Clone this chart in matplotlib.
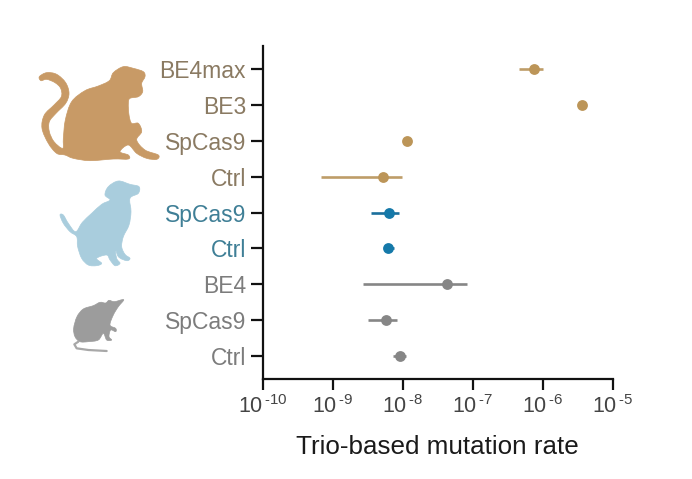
import numpy as np
import matplotlib
matplotlib.use("Agg")
import matplotlib.pyplot as plt
from matplotlib.path import Path
from matplotlib.patches import PathPatch
from matplotlib.ticker import LogLocator, FuncFormatter, NullLocator

plt.rcParams['font.family'] = ['Liberation Sans', 'DejaVu Sans']
plt.rcParams['mathtext.fontset'] = 'custom'
plt.rcParams['mathtext.rm'] = 'Liberation Sans'
plt.rcParams['mathtext.default'] = 'regular'

# ---- data ----
categories = ["BE4max", "BE3", "SpCas9", "Ctrl", "SpCas9", "Ctrl", "BE4", "SpCas9", "Ctrl"]
rate  = [7.4e-7, 3.65e-6, 1.15e-8, 5.3e-9, 6.3e-9, 6.2e-9, 4.35e-8, 5.8e-9, 9.2e-9]
low   = [4.6e-7, 3.65e-6, 1.15e-8, 6.7e-10, 3.5e-9, 5.4e-9, 2.7e-9, 3.2e-9, 7.3e-9]
high  = [1.0e-6, 3.65e-6, 1.15e-8, 9.8e-9, 9.0e-9, 7.4e-9, 8.4e-8, 8.3e-9, 1.1e-8]
group = ["macaque", "macaque", "macaque", "macaque", "dog", "dog", "mouse", "mouse", "mouse"]

mark_col  = {"macaque": "#BC9558", "dog": "#1579A9", "mouse": "#868686"}
line_col  = {"macaque": "#BE9D68", "dog": "#1B6F9C", "mouse": "#868686"}
label_col = {"macaque": "#8A7A62", "dog": "#3F7F96", "mouse": "#7C7C7C"}

# silhouette outlines (zoomed-crop coordinates, 3x, with crop origin)
monkey = [(280,20),(310,25),(340,35),(345,50),(335,70),(338,95),(325,110),(300,115),(295,130),(297,165),
          (305,190),(325,190),(335,215),(320,240),(345,270),(385,285),(380,298),(350,295),(320,280),(295,255),
          (270,275),(295,285),(295,297),(250,297),(180,302),(130,295),(105,285),(80,280),(55,250),(36,205),
          (43,165),(72,135),(94,110),(92,85),(75,68),(50,58),(33,62),(28,50),(50,38),(80,43),(107,68),(117,100),
          (107,130),(78,160),(58,185),(58,215),(72,245),(98,265),(100,235),(106,180),(125,125),(165,92),
          (205,78),(238,62),(250,38)]
dog = [(190,18),(225,28),(252,35),(250,55),(225,70),(228,110),(222,150),(205,185),(200,215),(210,238),
       (225,250),(215,257),(190,245),(180,215),(185,250),(195,265),(180,272),(165,255),(155,240),(125,250),
       (140,265),(125,272),(100,270),(80,250),(68,215),(65,185),(45,170),(25,145),(15,120),(25,120),(40,145),
       (62,170),(82,142),(110,115),(140,88),(165,75),(150,60),(160,35)]
rat = [(105,22),(122,24),(132,16),(148,20),(176,14),(160,35),(145,60),(135,90),(152,100),(152,110),(137,105),
       (132,125),(140,135),(125,135),(115,115),(100,135),(70,140),(45,140),(30,125),(26,100),(36,65),(55,42),(85,32)]
rat_tail = [(40,140),(28,148),(35,160),(70,165),(125,168)]

W, H = 692, 479
fig = plt.figure(figsize=(W/100, H/100), dpi=100, facecolor="white")
ax = fig.add_axes([262.7/W, 1-379/H, 350/W, 333/H])

y = np.arange(len(categories))
for i, g in enumerate(group):
    ax.errorbar(rate[i], y[i], xerr=[[rate[i]-low[i]], [high[i]-rate[i]]],
                fmt="none", ecolor=line_col[g], elinewidth=1.9, capsize=0, zorder=2)
    ax.plot(rate[i], y[i], "o", ms=7.8, mfc=mark_col[g], mec=mark_col[g], mew=0, zorder=3)

ax.set_xscale("log")
ax.set_xlim(1e-10, 1e-5)
ax.set_ylim(8.635, -0.64)
ax.xaxis.set_major_locator(LogLocator(base=10, numticks=10))
ax.xaxis.set_major_formatter(FuncFormatter(
    lambda v, _: "10$^{\\,\\text{-%d}}$" % round(-np.log10(v))))
ax.xaxis.set_minor_locator(NullLocator())
ax.set_yticks(y)
ax.set_yticklabels(categories)
for lab, g in zip(ax.get_yticklabels(), group):
    lab.set_color(label_col[g])
for s in ("top", "right"):
    ax.spines[s].set_visible(False)
for s in ("left", "bottom"):
    ax.spines[s].set_linewidth(1.6)
    ax.spines[s].set_color("#111111")
ax.tick_params(axis="y", length=8.5, width=1.6, labelsize=16.5, pad=3.5, color="#111111")
ax.tick_params(axis="x", length=8, width=1.6, labelsize=15.5, pad=3.5, color="#111111", labelcolor="#444444")
ax.set_xlabel("Trio-based mutation rate", fontsize=18.7, color="#1a1a1a", labelpad=12)

# decorative silhouettes on a pixel-space overlay
ov = fig.add_axes([0, 0, 1, 1], facecolor="none")
ov.set_xlim(0, W); ov.set_ylim(H, 0); ov.axis("off")

def smooth_closed(pts, ox, oy):
    p = np.array(pts, float) / 3 + [ox, oy]
    n = len(p)
    verts = [p[0]]; codes = [Path.MOVETO]
    for i in range(n):
        p0, p1, p2, p3 = p[i-1], p[i], p[(i+1) % n], p[(i+2) % n]
        verts += [p1 + (p2-p0)/6, p2 - (p3-p1)/6, p2]
        codes += [Path.CURVE4]*3
    return Path(verts, codes)

ov.add_patch(PathPatch(smooth_closed(monkey, 30, 60), fc="#C89A66", ec="#C89A66", lw=0.5))
ov.add_patch(PathPatch(smooth_closed(dog, 55, 175), fc="#A9CDDD", ec="#A9CDDD", lw=0.5))
ov.add_patch(PathPatch(smooth_closed(rat, 65, 295), fc="#9C9C9C", ec="#9C9C9C", lw=0.5))
t = np.array(rat_tail, float)/3 + [65, 295]
ov.plot(t[:, 0], t[:, 1], color="#A8A8A8", lw=1.6, solid_capstyle="round")

fig.savefig("out.png", dpi=100, facecolor="white")
